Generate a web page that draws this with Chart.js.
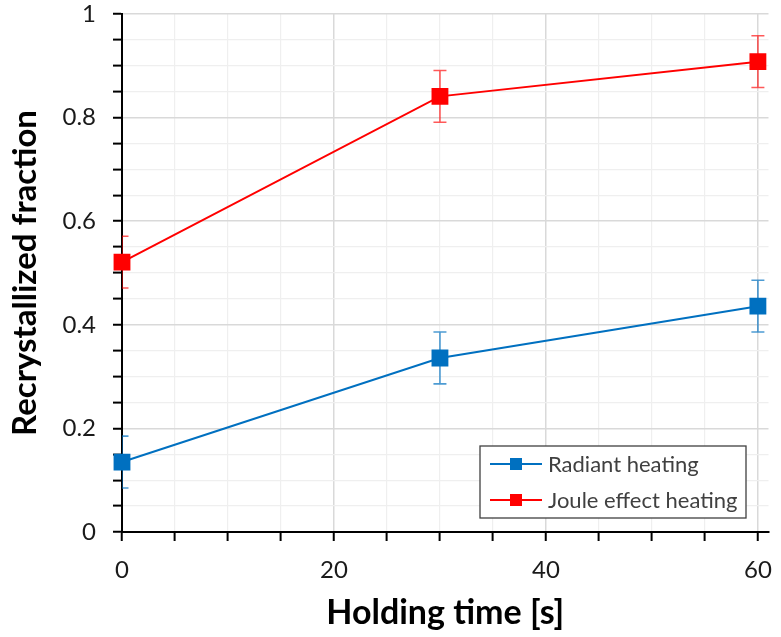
<!DOCTYPE html>
<html>
<head>
<meta charset="utf-8">
<script src="https://cdn.jsdelivr.net/npm/chart.js@4.4.1/dist/chart.umd.min.js"></script>
<style>
  html, body { margin: 0; padding: 0; background: #fff; }
  #wrap { width: 781px; height: 637px; }
</style>
</head>
<body>
<div id="wrap"><canvas id="myChart" width="781" height="637"></canvas></div>
<script>
// Holding time [s]
const holdingTimes = [0, 30, 60];
// Recrystallized fraction
const radiantValues = [0.135, 0.336, 0.436];
const radiantErrors = [0.05, 0.05, 0.05];
const jouleValues = [0.521, 0.841, 0.908];
const jouleErrors = [0.05, 0.05, 0.05];
// axis ticks
const xMajorTicks = [0, 20, 40, 60];
const yMajorTicks = [0, 0.2, 0.4, 0.6, 0.8, 1];
const xMinorStep = 5;
const yMinorStep = 0.05;

const blue = '#0070C0';
const red = '#FF0000';

function toPoints(xs, ys, errs) {
  return xs.map((x, i) => ({ x: x, y: ys[i], err: errs[i] }));
}

function isMajor(v, list) {
  return list.some(m => Math.abs(m - v) < 1e-6);
}

// vertical error bars with caps, clipped to the plot area
const errorBars = {
  id: 'errorBars',
  beforeDatasetsDraw(chart) {
    const { ctx, chartArea, scales: { x, y } } = chart;
    ctx.save();
    ctx.beginPath();
    ctx.rect(chartArea.left, chartArea.top, chartArea.width, chartArea.height);
    ctx.clip();
    chart.data.datasets.forEach(ds => {
      ctx.strokeStyle = ds.errorColor;
      ctx.lineWidth = 1.6;
      ds.data.forEach(p => {
        const px = x.getPixelForValue(p.x);
        const top = y.getPixelForValue(p.y + p.err);
        const bot = y.getPixelForValue(p.y - p.err);
        ctx.beginPath();
        ctx.moveTo(px, top); ctx.lineTo(px, bot);
        ctx.moveTo(px - 6.5, top); ctx.lineTo(px + 6.5, top);
        ctx.moveTo(px - 6.5, bot); ctx.lineTo(px + 6.5, bot);
        ctx.stroke();
      });
    });
    ctx.restore();
  }
};

// legend box drawn inside the plot, lower right
const boxLegend = {
  id: 'boxLegend',
  afterDraw(chart) {
    const ctx = chart.ctx;
    const bx = 480, by = 446, bw = 266, bh = 72;
    ctx.save();
    ctx.fillStyle = '#fff';
    ctx.fillRect(bx, by, bw, bh);
    ctx.strokeStyle = '#404040';
    ctx.lineWidth = 1.3;
    ctx.strokeRect(bx, by, bw, bh);
    ctx.font = '22px Lato';
    ctx.textBaseline = 'middle';
    chart.data.datasets.forEach((ds, i) => {
      const cy = by + 18 + i * 36;
      ctx.strokeStyle = ds.borderColor;
      ctx.lineWidth = 2;
      ctx.beginPath();
      ctx.moveTo(bx + 10, cy); ctx.lineTo(bx + 62, cy);
      ctx.stroke();
      ctx.fillStyle = ds.borderColor;
      ctx.fillRect(bx + 30, cy - 6, 12, 12);
      ctx.fillStyle = '#404040';
      ctx.fillText(ds.label, bx + 68, cy + 1);
    });
    ctx.restore();
  }
};

const ctx = document.getElementById('myChart').getContext('2d');
const myChart = new Chart(ctx, {
  type: 'line',
  data: {
    datasets: [{
      label: 'Radiant heating',
      data: toPoints(holdingTimes, radiantValues, radiantErrors),
      borderColor: blue,
      backgroundColor: blue,
      errorColor: 'rgba(0,112,192,0.7)',
      borderWidth: 2,
      pointStyle: 'rect',
      pointRadius: 10.5,
      pointHoverRadius: 10.5,
      clip: false
    }, {
      label: 'Joule effect heating',
      data: toPoints(holdingTimes, jouleValues, jouleErrors),
      borderColor: red,
      backgroundColor: red,
      errorColor: 'rgba(255,0,0,0.65)',
      borderWidth: 2,
      pointStyle: 'rect',
      pointRadius: 10.5,
      pointHoverRadius: 10.5,
      clip: false
    }]
  },
  options: {
    responsive: false,
    animation: false,
    layout: { padding: { top: 14, right: 7, left: 0, bottom: 0 } },
    plugins: {
      legend: { display: false },
      tooltip: { enabled: false }
    },
    scales: {
      x: {
        type: 'linear',
        min: 0,
        max: 61,
        afterBuildTicks: scale => {
          const t = [];
          for (let v = 0; v <= 60; v += xMinorStep) t.push({ value: v });
          scale.ticks = t;
        },
        afterFit: scale => {
          scale.height = 105;
          scale.paddingLeft = 0;
          scale.paddingRight = 0;
        },
        grid: {
          color: c => isMajor(c.tick.value, xMajorTicks) ? '#d9d9d9' : '#efefef',
          lineWidth: c => isMajor(c.tick.value, xMajorTicks) ? 1.5 : 1.2,
          tickColor: '#000',
          tickLength: 9,
          tickWidth: 2
        },
        border: { color: '#000', width: 2 },
        ticks: {
          autoSkip: false,
          maxRotation: 0,
          padding: 15,
          color: '#1a1a1a',
          font: { family: 'Lato', size: 24 },
          callback: v => isMajor(v, xMajorTicks) ? String(v) : ''
        },
        title: {
          display: true,
          text: 'Holding time [s]',
          color: '#000',
          font: { family: 'Lato', size: 34, weight: 'bold' },
          padding: { top: 0, bottom: 4 }
        }
      },
      y: {
        min: 0,
        max: 1,
        afterBuildTicks: scale => {
          const t = [];
          for (let i = 0; i <= 20; i++) t.push({ value: Math.round(i * yMinorStep * 100) / 100 });
          scale.ticks = t;
        },
        afterFit: scale => {
          scale.width = 122;
          scale.paddingTop = 0;
          scale.paddingBottom = 0;
        },
        grid: {
          color: c => isMajor(c.tick.value, yMajorTicks) ? '#d9d9d9' : '#efefef',
          lineWidth: c => isMajor(c.tick.value, yMajorTicks) ? 1.5 : 1.2,
          tickColor: '#000',
          tickLength: 9,
          tickWidth: 2
        },
        border: { color: '#000', width: 2 },
        ticks: {
          autoSkip: false,
          padding: 17,
          color: '#1a1a1a',
          font: { family: 'Lato', size: 24 },
          callback: v => isMajor(v, yMajorTicks) ? String(Math.round(v * 10) / 10) : ''
        },
        title: {
          display: true,
          text: 'Recrystallized fraction',
          color: '#000',
          font: { family: 'Lato', size: 33, weight: 'bold' },
          padding: { top: 6, bottom: 0 }
        }
      }
    }
  },
  plugins: [errorBars, boxLegend]
});
</script>
</body>
</html>
